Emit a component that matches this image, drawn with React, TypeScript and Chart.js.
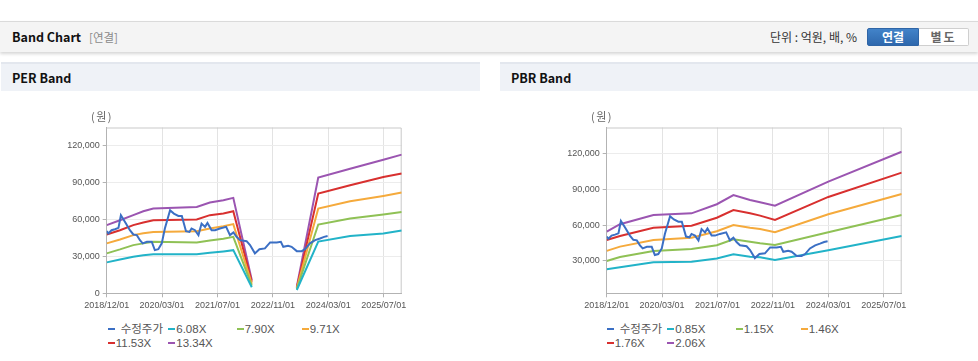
import React, { useEffect, useRef } from "react";
import { Chart, registerables } from "chart.js";
Chart.register(...registerables);

// ---------- data ----------
const xTickMonths = [0, 16, 32, 48, 64, 80];
const xTickLabels = ["2018/12/01", "2020/03/01", "2021/07/01", "2022/11/01", "2024/03/01", "2025/07/01"];
const perYTicks = [0, 30000, 60000, 90000, 120000];
const pbrYTicks = [30000, 60000, 90000, 120000];

const priceLabel = "수정주가";
const priceMonths = [0, 0.5, 1.4, 2.4, 3.4, 4.1, 5.3, 6.7, 7.7, 8.7, 9.6, 10.4, 11.6, 13, 13.9, 14.9, 15.9, 16.8, 18.3, 19.4, 20.7, 21.7, 22.9, 23.9, 24.5, 25.5, 26.5, 27.4, 28.4, 29.1, 30.3, 31.3, 32.7, 34.5, 35.6, 36.6, 37.5, 38.5, 40.4, 41.4, 42.8, 44.1, 45.7, 47.2, 49.1, 50.3, 51, 52.4, 53.4, 54.9, 56.3, 57.3, 58.7, 60.2, 61.6, 62.8, 63.8];
const priceValues = [50400, 48600, 51200, 52000, 53100, 63400, 57900, 51200, 47700, 47200, 43100, 40500, 41800, 41800, 35000, 35800, 40500, 52600, 67400, 64700, 62800, 62800, 50400, 49800, 52600, 51200, 47200, 56600, 53900, 57100, 51200, 51200, 52600, 53900, 47200, 49400, 45800, 43100, 42300, 39100, 32400, 35800, 36400, 41300, 41300, 41800, 37700, 38500, 37700, 34200, 34200, 35800, 40500, 43100, 44500, 45800, 46400];

const perBandLabels = ["6.08X", "7.90X", "9.71X", "11.53X", "13.34X"];
const perBandMonths = [0, 3.84, 7.68, 10.57, 13.46, 26, 29.8, 33.7, 36.56, 41.9, 48, 54.9, 61.1, 70.3, 79.9, 85.2];
const perBand1 = [25100, 27500, 29700, 30800, 31600, 31600, 32800, 34000, 35000, 4900, null, 2700, 42000, 46400, 48500, 51000];
const perBand2 = [32400, 35600, 39100, 40500, 41800, 41300, 42900, 44300, 45800, 6300, null, 3400, 55800, 60700, 63900, 66000];
const perBand3 = [40500, 43700, 47200, 48700, 49800, 50400, 52600, 54400, 56100, 7800, null, 4000, 68800, 74700, 79000, 81700];
const perBand4 = [47700, 51200, 55300, 57400, 59300, 59900, 63400, 64700, 66600, 9300, null, 4600, 80900, 87600, 94400, 97100];
const perBand5 = [55300, 59300, 63400, 66600, 68800, 70100, 73600, 75500, 77400, 10800, null, 5300, 93900, 101100, 108400, 112500];

const pbrBandLabels = ["0.85X", "1.15X", "1.46X", "1.76X", "2.06X"];
const pbrBandMonths = [0, 3.84, 13.5, 24.5, 31.8, 36.6, 41.4, 44.3, 48.6, 64, 85.2];
const pbrBand1 = [23000, 24700, 28900, 29400, 32000, 35600, 33600, 33100, 30800, 39000, 50900];
const pbrBand2 = [30000, 33300, 38400, 40000, 43200, 48100, 46100, 44800, 43400, 54000, 68400];
const pbrBand3 = [38400, 42000, 47500, 49500, 54900, 60100, 57800, 56700, 54000, 69000, 86000];
const pbrBand4 = [47500, 50900, 57800, 59500, 66100, 72600, 69800, 67900, 64300, 83500, 103800];
const pbrBand5 = [54500, 60700, 68400, 69800, 77400, 85100, 81000, 79000, 76200, 96300, 121300];

// ---------- styles ----------
const priceColor = "#3b6fc4";
const bandColors = ["#22b3c8", "#8fc155", "#f5aa3c", "#d8302f", "#9b55b1"];
const TICK_FONT = "'Liberation Sans', Arial, sans-serif";
const KR_FONT = "'Noto Sans CJK KR', 'Liberation Sans', sans-serif";
const LEGEND_FONT = "'Liberation Sans', 'Noto Sans CJK KR', sans-serif";

const frame = {
  id: "frame",
  beforeDatasetsDraw(chart: any) {
    const { ctx, chartArea: a } = chart;
    ctx.save();
    ctx.strokeStyle = "#c9c9c9";
    ctx.lineWidth = 1;
    ctx.beginPath();
    ctx.moveTo(a.left, a.top + 0.5);
    ctx.lineTo(a.right - 0.5, a.top + 0.5);
    ctx.lineTo(a.right - 0.5, a.bottom);
    ctx.stroke();
    ctx.restore();
  },
};

type Band = { label: string; months: number[]; values: (number | null)[]; color: string };

function toPoints(xs: number[], ys: (number | null)[]) {
  return xs.map((x, i) => ({ x, y: ys[i] }));
}

const CW = 480;
const CH = 215;

function BandChart({ bands, yMin, yMax, yTicks }: { bands: Band[]; yMin: number; yMax: number; yTicks: number[] }) {
  const ref = useRef<HTMLCanvasElement>(null);
  useEffect(() => {
    if (!ref.current) return;
    const datasets: any[] = [
      {
        label: priceLabel,
        data: toPoints(priceMonths, priceValues),
        borderColor: priceColor,
        backgroundColor: priceColor,
        borderWidth: 2,
        pointRadius: 0,
        tension: 0,
      },
      ...bands.map((b) => ({
        label: b.label,
        data: toPoints(b.months, b.values),
        borderColor: b.color,
        backgroundColor: b.color,
        borderWidth: 2,
        pointRadius: 0,
        tension: 0,
        spanGaps: false,
      })),
    ];
    const chart = new Chart(ref.current, {
      type: "line",
      data: { datasets },
      plugins: [frame],
      options: {
        animation: false,
        responsive: false,
        devicePixelRatio: 1,
        layout: { padding: { left: 40, right: 78.3, top: 27.5, bottom: 0 } },
        plugins: { legend: { display: false }, tooltip: { enabled: false }, title: { display: false } },
        scales: {
          x: {
            type: "linear",
            min: 0,
            max: 85.2,
            afterBuildTicks: (s: any) => {
              s.ticks = xTickMonths.map((v) => ({ value: v }));
            },
            afterFit: (s: any) => {
              s.height = CH - 193.3;
            },
            ticks: {
              autoSkip: false,
              maxRotation: 0,
              padding: 3,
              color: "#555",
              font: { family: TICK_FONT, size: 9 },
              callback: (_v: any, i: number) => xTickLabels[i],
            },
            grid: { color: "#e3e3e3", tickLength: 4, tickColor: "#b3b3b3" },
            border: { color: "#b3b3b3" },
          },
          y: {
            type: "linear",
            min: yMin,
            max: yMax,
            afterBuildTicks: (s: any) => {
              s.ticks = yTicks.map((v) => ({ value: v }));
            },
            afterFit: (s: any) => {
              s.width = 66.7;
            },
            ticks: {
              padding: 3,
              color: "#555",
              font: { family: TICK_FONT, size: 9 },
              callback: (v: any) => Number(v).toLocaleString("en-US"),
            },
            grid: { color: "#ececec", tickLength: 4, tickColor: "#b3b3b3" },
            border: { color: "#b3b3b3" },
          },
        },
      },
    });
    return () => chart.destroy();
  }, []);
  return <canvas ref={ref} width={CW} height={CH} style={{ width: CW, height: CH, display: "block" }} />;
}

const legendCols = [0, 60.6, 129, 194];

function Legend({ items, left, top }: { items: { label: string; color: string }[]; left: number; top: number }) {
  return (
    <div style={{ position: "absolute", left, top }}>
      {items.map((it, i) => {
        const col = i % 4;
        const row = Math.floor(i / 4);
        return (
          <div
            key={i}
            style={{
              position: "absolute",
              left: legendCols[col],
              top: row * 14,
              height: 14,
              display: "flex",
              alignItems: "center",
              whiteSpace: "nowrap",
              fontFamily: LEGEND_FONT,
              fontSize: 11.5,
              color: "#555",
            }}
          >
            <span style={{ display: "inline-block", width: 7, height: 2, background: it.color, marginRight: it.label === priceLabel ? 6 : 1 }} />
            <span style={{ lineHeight: "14px" }}>{it.label}</span>
          </div>
        );
      })}
    </div>
  );
}

export default function App() {
  const perBands: Band[] = [perBand1, perBand2, perBand3, perBand4, perBand5].map((v, i) => ({
    label: perBandLabels[i],
    months: perBandMonths,
    values: v,
    color: bandColors[i],
  }));
  const pbrBands: Band[] = [pbrBand1, pbrBand2, pbrBand3, pbrBand4, pbrBand5].map((v, i) => ({
    label: pbrBandLabels[i],
    months: pbrBandMonths,
    values: v,
    color: bandColors[i],
  }));
  const perLegend = [{ label: priceLabel, color: priceColor }, ...perBands.map((b) => ({ label: b.label, color: b.color }))];
  const pbrLegend = [{ label: priceLabel, color: priceColor }, ...pbrBands.map((b) => ({ label: b.label, color: b.color }))];

  const panelHead = (left: number, width: number, text: string) => (
    <div
      style={{
        position: "absolute",
        left,
        top: 62,
        width,
        height: 27,
        background: "#eff2f7",
        borderTop: "2px solid #e3e7ee",
        fontFamily: KR_FONT,
        fontWeight: 700,
        fontSize: 12.5,
        color: "#111",
        lineHeight: "27px",
        paddingLeft: 11,
        boxSizing: "content-box",
      }}
    >
      {text}
    </div>
  );

  return (
    <div style={{ position: "absolute", left: 0, top: 0, width: 978, height: 361, background: "#fff", overflow: "hidden" }}>
      {/* top band */}
      <div
        style={{
          position: "absolute",
          left: 0,
          top: 21,
          width: 978,
          height: 30,
          background: "#f4f4f4",
          borderTop: "1px solid #dadada",
          boxShadow: "0 2px 3px rgba(0,0,0,0.16)",
        }}
      >
        <span style={{ position: "absolute", left: 12, top: 0, lineHeight: "30px", fontFamily: KR_FONT, fontWeight: 700, fontSize: 12.5, color: "#111" }}>
          Band Chart
        </span>
        <span style={{ position: "absolute", left: 89, top: 0, lineHeight: "30px", fontFamily: KR_FONT, fontSize: 11.5, color: "#8a8a8a" }}>
          [연결]
        </span>
        <span style={{ position: "absolute", left: 770, top: 0, lineHeight: "30px", fontFamily: KR_FONT, fontSize: 12, color: "#333" }}>
          단위 : 억원, 배, %
        </span>
        <div
          style={{
            position: "absolute",
            left: 867,
            top: 6,
            width: 52,
            height: 18,
            background: "linear-gradient(#4283c9, #2e68ad)",
            border: "1px solid #2f65a6",
            borderRadius: "2px 0 0 2px",
            boxSizing: "border-box",
            color: "#fff",
            fontFamily: KR_FONT,
            fontWeight: 700,
            fontSize: 12,
            lineHeight: "16px",
            textAlign: "center",
          }}
        >
          연결
        </div>
        <div
          style={{
            position: "absolute",
            left: 919,
            top: 6,
            width: 50,
            height: 18,
            background: "#fff",
            border: "1px solid #cfcfcf",
            borderLeft: "none",
            borderRadius: "0 2px 2px 0",
            boxSizing: "border-box",
            color: "#666",
            fontFamily: KR_FONT,
            fontWeight: 700,
            fontSize: 12,
            lineHeight: "16px",
            textAlign: "center",
            letterSpacing: 2,
          }}
        >
          별도
        </div>
      </div>

      {panelHead(1, 468, "PER Band")}
      {panelHead(500, 467, "PBR Band")}

      {/* PER panel */}
      <div style={{ position: "absolute", left: 0, top: 100 }}>
        <BandChart bands={perBands} yMin={0} yMax={134500} yTicks={perYTicks} />
      </div>
      <div style={{ position: "absolute", left: 91, top: 108, fontFamily: KR_FONT, fontSize: 11, color: "#666", letterSpacing: 1.5 }}>(원)</div>
      <Legend items={perLegend} left={107.7} top={322} />

      {/* PBR panel */}
      <div style={{ position: "absolute", left: 500, top: 100 }}>
        <BandChart bands={pbrBands} yMin={3000} yMax={141500} yTicks={pbrYTicks} />
      </div>
      <div style={{ position: "absolute", left: 591, top: 108, fontFamily: KR_FONT, fontSize: 11, color: "#666", letterSpacing: 1.5 }}>(원)</div>
      <Legend items={pbrLegend} left={606.7} top={322} />
    </div>
  );
}
